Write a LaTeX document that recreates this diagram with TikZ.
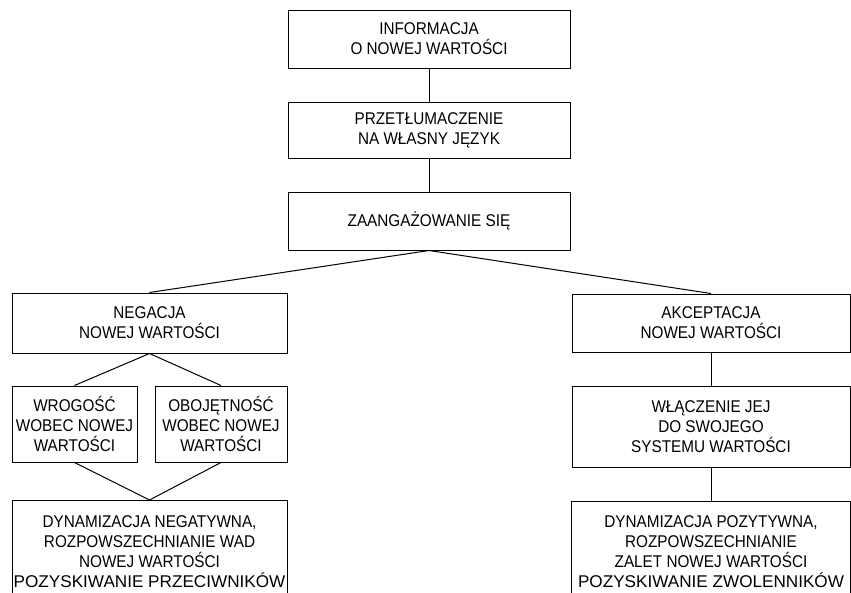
\documentclass[tikz,border=0pt]{standalone}
\usepackage{fontspec}
\setmainfont{Liberation Sans}[FakeStretch=0.9]
\usepackage{graphicx}
\begin{document}
\begin{tikzpicture}[x=1pt,y=-1pt,
  box/.style={draw, line width=1pt, rectangle, align=center, inner sep=0pt,
              font=\fontsize{17}{20}\selectfont},
  txt/.style={align=center, inner sep=0pt, font=\fontsize{17}{20}\selectfont},
  link/.style={line width=1pt}]
\useasboundingbox (0,0) rectangle (851,592);
\clip (0,0) rectangle (851,592);

\node[box, minimum width=282pt, minimum height=58pt] (b1) at (429,39)
  {INFORMACJA\\O NOWEJ WARTOŚCI};
\node[box, minimum width=282pt, minimum height=56pt] (b2) at (429,130)
  {PRZETŁUMACZENIE\\NA WŁASNY JĘZYK};
\node[box, minimum width=282pt, minimum height=58pt] (b3) at (429,221)
  {ZAANGAŻOWANIE SIĘ};

\node[box, minimum width=275pt, minimum height=60pt] (neg) at (149.5,323)
  {NEGACJA\\NOWEJ WARTOŚCI};
\node[box, minimum width=278pt, minimum height=58pt] (akc) at (711,323)
  {AKCEPTACJA\\NOWEJ WARTOŚCI};

\node[box, minimum width=125pt, minimum height=76pt] (wro) at (74.5,424)
  {WROGOŚĆ\\WOBEC NOWEJ\\WARTOŚCI};
\node[box, minimum width=132pt, minimum height=76pt] (obo) at (221,424)
  {OBOJĘTNOŚĆ\\WOBEC NOWEJ\\WARTOŚCI};
\node[box, minimum width=278pt, minimum height=81pt] (wla) at (711,426.5)
  {WŁĄCZENIE JEJ\\DO SWOJEGO\\SYSTEMU WARTOŚCI};

\node[box, minimum width=275pt, minimum height=120pt, anchor=north] (dynn) at (149.5,500) {};
\node[txt] (dynnt) at (149.5,552)
  {DYNAMIZACJA NEGATYWNA,\\ROZPOWSZECHNIANIE WAD\\NOWEJ WARTOŚCI\\\scalebox{1.12}[1]{POZYSKIWANIE PRZECIWNIKÓW}};
\node[box, minimum width=279pt, minimum height=120pt, anchor=north] (dynp) at (711,501) {};
\node[txt] (dynpt) at (711,552)
  {DYNAMIZACJA POZYTYWNA,\\ROZPOWSZECHNIANIE\\ZALET NOWEJ WARTOŚCI\\\scalebox{1.12}[1]{POZYSKIWANIE ZWOLENNIKÓW}};

\draw[link] (b1.south) -- (b2.north);
\draw[link] (b2.south) -- (b3.north);
\draw[link] (b3.south) -- (neg.north);
\draw[link] (b3.south) -- (akc.north);
\draw[link] (neg.south) -- (wro.north);
\draw[link] (neg.south) -- (obo.north);
\draw[link] (wro.south) -- (dynn.north);
\draw[link] (obo.south) -- (dynn.north);
\draw[link] (akc.south) -- (wla.north);
\draw[link] (wla.south) -- (dynp.north);
\end{tikzpicture}
\end{document}
